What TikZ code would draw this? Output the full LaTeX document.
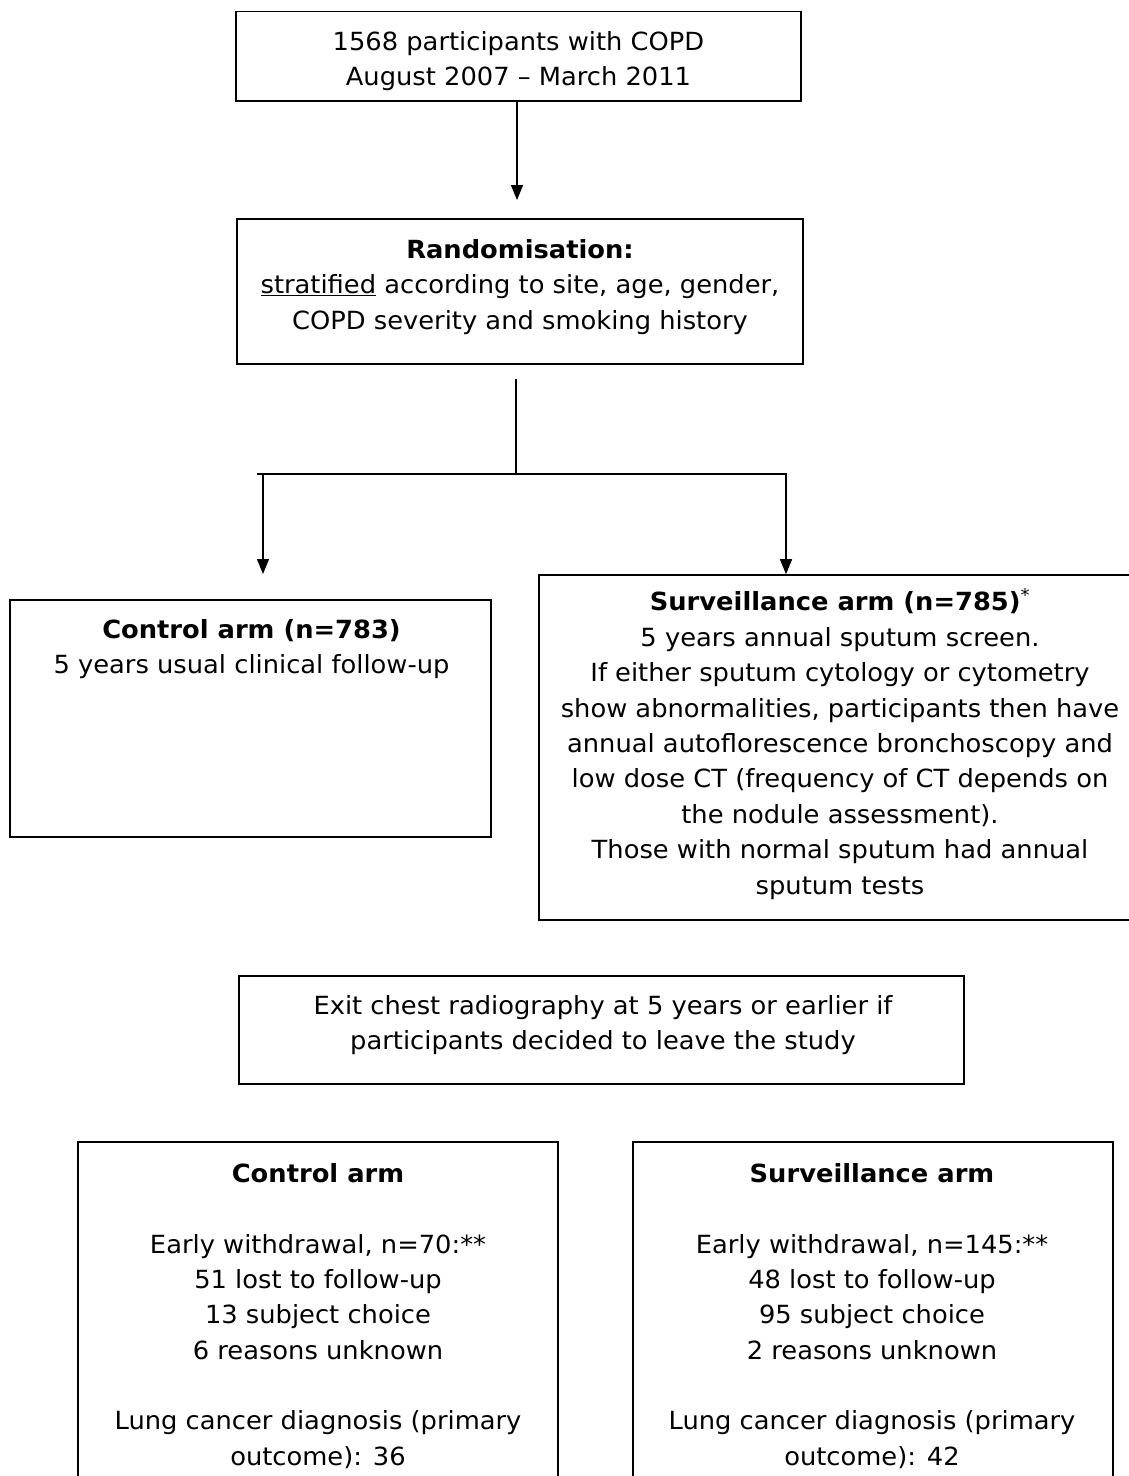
\documentclass[tikz,border=0pt]{standalone}
\usepackage{fontspec}
\setmainfont{DejaVu Sans}[FakeStretch=1.03]
\usetikzlibrary{arrows.meta}
\begin{document}
\begin{tikzpicture}[x=1pt,y=-1pt,
  box/.style={draw, line width=1.6pt, inner sep=0pt},
  txt/.style={align=center, inner sep=0pt, font=\fontsize{25}{35.4}\selectfont},
  conn/.style={line width=1.4pt},
  arr/.style={conn, -{Triangle[width=12pt,length=15pt]}}]
\useasboundingbox (0,0) rectangle (1128,1476);
% boxes
\node[box, minimum width=565pt, minimum height=89.5pt] (b1) at (518.5,56.25) {};
\node[box, minimum width=566pt, minimum height=145pt] (b2) at (520,291.5) {};
\node[box, minimum width=481pt, minimum height=237pt] (ctrl) at (250.5,718.5) {};
\node[box, minimum width=602pt, minimum height=345pt] (surv) at (840,747.5) {};
\node[box, minimum width=725pt, minimum height=108pt] (exit) at (601.5,1030) {};
\node[box, minimum width=480pt, minimum height=360pt] (cb) at (318,1322) {};
\node[box, minimum width=480pt, minimum height=360pt] (sb) at (873,1322) {};
% texts
\node[txt] (t1) at (518.5,61) {1568 participants with COPD\\August 2007 – March 2011};
\node[txt] (t2) at (520,287) {\textbf{Randomisation:}\\\underline{stratified} according to site, age, gender,\\COPD severity and smoking history};
\node[txt] (tc) at (251.5,649) {\textbf{Control arm (n=783)}\\5 years usual clinical follow-up};
\node[txt] (ts) at (840,744) {\textbf{Surveillance arm (n=785)}\textsuperscript{*}\\5 years annual sputum screen.\\If either sputum cytology or cytometry\\show abnormalities, participants then have\\annual autoflorescence bronchoscopy and\\low dose CT (frequency of CT depends on\\the nodule assessment).\\Those with normal sputum had annual\\sputum tests};
\node[txt] (te) at (603,1025) {Exit chest radiography at 5 years or earlier if\\participants decided to leave the study};
\node[txt] (tcb) at (318,1316) {\textbf{Control arm}\\[35pt]Early withdrawal, n=70:**\\51 lost to follow-up\\13 subject choice\\6 reasons unknown\\[35pt]Lung cancer diagnosis (primary\\outcome): 36};
\node[txt] (tsb) at (872,1316) {\textbf{Surveillance arm}\\[35pt]Early withdrawal, n=145:**\\48 lost to follow-up\\95 subject choice\\2 reasons unknown\\[35pt]Lung cancer diagnosis (primary\\outcome): 42};
% connectors
\coordinate (a1) at (517,200);
\coordinate (s0) at (516,379);
\coordinate (j) at (516,474);
\coordinate (jl) at (257,474);
\coordinate (jr) at (787,474);
\coordinate (la) at (263,474);
\coordinate (ra) at (786,474);
\draw[arr] (b1.south -| a1) -- (a1);
\draw[conn] (s0) -- (j);
\draw[conn] (jl) -- (jr);
\draw[arr] (la) -- (263,574);
\draw[arr] (ra) -- (surv.north -| ra);
\end{tikzpicture}
\end{document}
